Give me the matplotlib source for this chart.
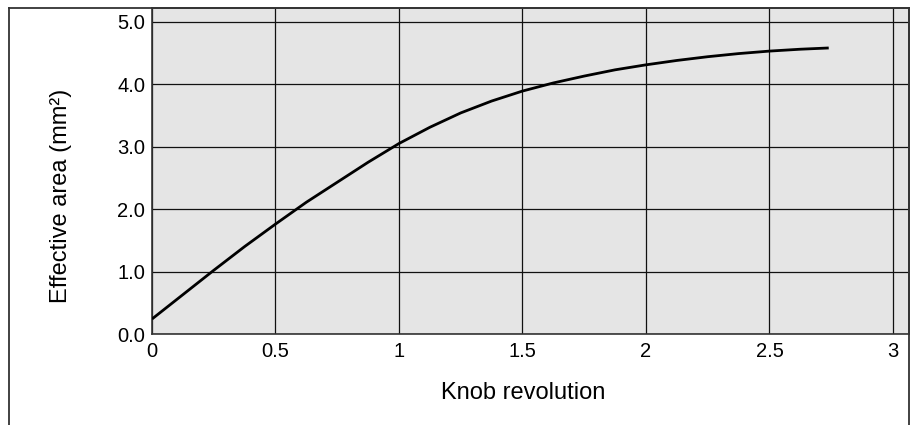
import numpy as np
import matplotlib
matplotlib.use("Agg")
import matplotlib.pyplot as plt
from matplotlib.lines import Line2D

plt.rcParams['font.family'] = ['Liberation Sans', 'DejaVu Sans']

# === Data ===
knob_rev = [0, 0.125, 0.25, 0.375, 0.5, 0.625, 0.75, 0.875, 1.0, 1.125, 1.25,
            1.375, 1.5, 1.625, 1.75, 1.875, 2.0, 2.125, 2.25, 2.375, 2.5, 2.625, 2.74]
eff_area = [0.24, 0.63, 1.02, 1.40, 1.76, 2.11, 2.43, 2.75, 3.05, 3.31, 3.54,
            3.73, 3.89, 4.02, 4.13, 4.23, 4.31, 4.38, 4.44, 4.49, 4.53, 4.56, 4.58]

x_ticks = [0, 0.5, 1, 1.5, 2, 2.5, 3]
x_tick_labels = ["0", "0.5", "1", "1.5", "2", "2.5", "3"]
y_ticks = [0, 1, 2, 3, 4, 5]
y_tick_labels = ["0.0", "1.0", "2.0", "3.0", "4.0", "5.0"]

# === Figure ===
fig = plt.figure(figsize=(9.14, 4.25), dpi=100)
ax = fig.add_axes([152/914, 1 - 334/425, (909 - 152)/914, (334 - 8)/425])
ax.set_facecolor("#e5e5e5")

ax.plot(knob_rev, eff_area, color="black", lw=2.0, solid_capstyle="butt",
        solid_joinstyle="round", zorder=3)

ax.set_xlim(0, 3.065)
ax.set_ylim(0, 5.22)
ax.set_xticks(x_ticks)
ax.set_xticklabels(x_tick_labels)
ax.set_yticks(y_ticks)
ax.set_yticklabels(y_tick_labels)
ax.tick_params(length=0, labelsize=14.5, colors="black")
ax.tick_params(axis="x", pad=6)
ax.tick_params(axis="y", pad=5)
ax.grid(True, color="#111111", lw=0.9)
ax.set_axisbelow(True)

for s in ax.spines.values():
    s.set_color("#333333")
    s.set_linewidth(1.2)

ax.set_xlabel("Knob revolution", fontsize=17)
ax.xaxis.set_label_coords(0.490, -0.148)
ax.set_ylabel("Effective area (mm²)", fontsize=17)
ax.yaxis.set_label_coords(-0.106, 0.425)

# outer frame (open at bottom)
frame_kw = dict(color="#333333", lw=1.3, transform=fig.transFigure)
fig.add_artist(Line2D([9/914, 9/914], [0, 1 - 8/425], **frame_kw))
fig.add_artist(Line2D([9/914, 909/914], [1 - 8/425, 1 - 8/425], **frame_kw))
fig.add_artist(Line2D([909/914, 909/914], [0, 1 - 8/425], **frame_kw))

fig.savefig("out.png", dpi=100)
